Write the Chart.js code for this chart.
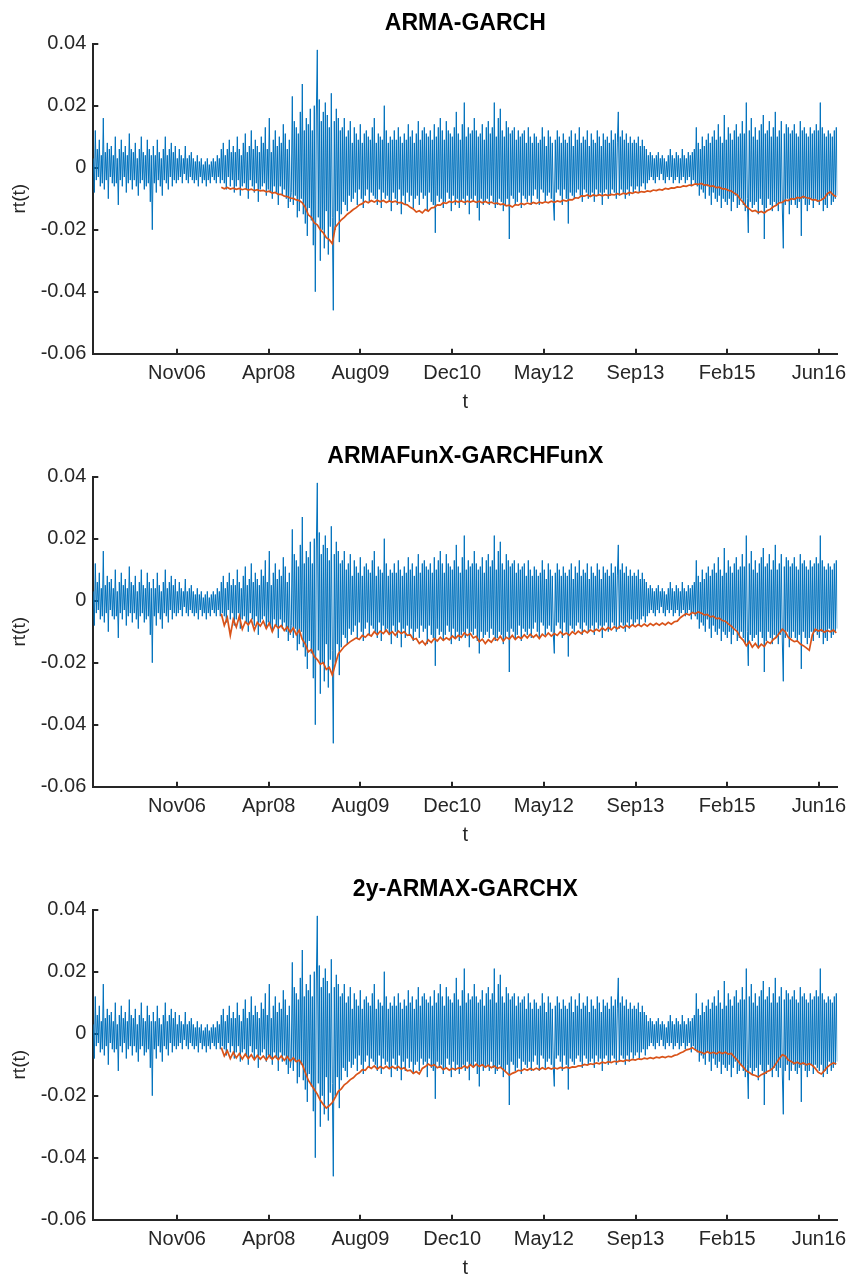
<!DOCTYPE html>
<html>
<head>
<meta charset="utf-8">
<script src="https://cdn.jsdelivr.net/npm/chart.js@4.4.0/dist/chart.umd.min.js"></script>
<style>
body { margin: 0; background: #fff; width: 851px; height: 1275px; overflow: hidden; position: relative; }
.panel { position: absolute; left: 0; width: 851px; height: 433px; }
</style>
</head>
<body>
<div class="panel" style="top:0px"><canvas id="c0" width="851" height="433"></canvas></div>
<div class="panel" style="top:433px"><canvas id="c1" width="851" height="433"></canvas></div>
<div class="panel" style="top:866px"><canvas id="c2" width="851" height="433"></canvas></div>
<script>
// t axis is the sample index; date labels sit at these samples
const tickLabelsX = ['Nov06', 'Apr08', 'Aug09', 'Dec10', 'May12', 'Sep13', 'Feb15', 'Jun16'];
const tickValuesX = [83.7, 175.4, 267.1, 358.8, 450.5, 542.2, 633.9, 725.6];
const tickValuesY = [-0.06, -0.04, -0.02, 0, 0.02, 0.04];
const tickLabelsY = ['-0.06', '-0.04', '-0.02', '0', '0.02', '0.04'];
const titles = ['ARMA-GARCH', 'ARMAFunX-GARCHFunX', '2y-ARMAX-GARCHX'];

// returns rt(t) (same series in all three panels)
const returns = [
  .003,-.008,.012,-.004,.006,-.003,.009,-.006,.004,-.005,.016,-.007,.005,-.004,.008,-.010,.006,-.003,.007,-.005,
  .004,-.006,.010,-.005,.003,-.012,.006,-.004,.009,-.006,.005,-.003,.007,-.008,.004,-.005,.011,-.004,.006,-.007,
  .005,-.004,.008,-.006,.003,-.009,.006,-.005,.010,-.004,.005,-.007,.004,-.006,.009,-.005,.006,-.011,.004,-.020,
  .007,-.005,.004,-.008,.009,-.004,.005,-.006,.003,-.009,.006,-.004,.010,-.005,.004,-.007,.006,-.003,.008,-.006,
  .005,-.004,.007,-.005,.003,-.004,.006,-.003,.004,-.005,.003,-.002,.007,-.004,.003,-.005,.004,-.003,.005,-.004,
  .003,-.005,.002,-.004,.004,-.006,.002,-.003,.003,-.005,.001,-.004,.002,-.006,.003,-.004,.001,-.005,.002,-.003,
  .003,-.004,.002,-.005,.004,-.003,.003,-.005,.006,-.004,.008,-.005,.004,-.007,.006,-.003,.009,-.006,.005,-.004,
  .007,-.008,.005,-.006,.010,-.004,.006,-.009,.004,-.006,.008,-.005,.011,-.007,.005,-.010,.007,-.004,.012,-.006,
  .006,-.008,.009,-.005,.007,-.011,.005,-.007,.010,-.006,.008,-.005,.013,-.009,.006,-.007,.016,-.008,.005,-.010,
  .009,-.006,.012,-.008,.007,-.012,.010,-.006,.008,-.009,.014,-.007,.011,-.010,.006,-.013,.009,-.011,-.008,.023,
  -.012,.015,-.009,.013,-.016,.011,-.014,.018,-.010,.027,-.015,.012,-.018,.016,-.022,.014,-.013,.019,-.017,.012,
  -.025,.020,-.040,.017,.038,-.016,.022,-.030,.015,-.020,.018,-.026,.021,-.014,.017,-.028,.013,-.019,.024,-.016,
  -.046,.015,-.020,.019,-.014,.016,-.024,.012,-.015,.013,-.011,.016,-.012,.010,-.014,.012,-.009,.015,-.011,.008,
  -.010,.013,-.008,.011,-.012,.009,-.007,.014,-.010,.008,-.013,.011,-.009,.012,-.007,.010,-.011,.009,-.008,.013,
  -.009,.016,-.010,.008,-.012,.011,-.007,.010,-.013,.009,-.008,.020,-.010,.012,-.009,.008,-.011,.010,-.014,.009,
  -.008,.012,-.010,.009,-.012,.013,-.007,.010,-.015,.008,-.009,.011,-.012,.009,-.008,.014,-.011,.010,-.009,.012,
  -.013,.008,-.010,.011,-.009,.015,-.012,.009,-.008,.012,-.010,.013,-.009,.011,-.014,.010,-.008,.012,-.011,.009,
  -.012,.014,-.021,.010,-.009,.013,-.011,.016,-.010,.012,-.013,.009,-.011,.015,-.008,.012,-.010,.011,-.014,.010,
  -.009,.013,-.012,.018,-.010,.011,-.013,.009,-.011,.014,-.010,.021,-.012,.010,-.009,.013,-.015,.011,-.010,.012,
  -.011,.016,-.009,.012,-.013,.010,-.017,.011,-.010,.014,-.012,.009,-.011,.013,-.010,.015,-.012,.011,-.009,.013,
  -.011,.021,-.013,.010,-.012,.016,-.010,.019,-.011,.012,-.014,.010,-.012,.015,-.010,.013,-.023,.011,-.009,.012,
  -.010,.013,-.012,.009,-.011,.012,-.008,.010,-.013,.011,-.009,.012,-.010,.008,-.011,.013,-.009,.010,-.012,.008,
  -.009,.011,-.007,.010,-.010,.008,-.012,.009,-.007,.013,-.008,.010,-.011,.007,-.009,.012,-.008,.010,-.010,.008,
  -.011,-.017,.009,-.008,.012,-.007,.010,-.009,.008,-.012,.011,-.007,.009,-.010,.008,-.018,.010,-.008,.012,-.009,
  .007,-.010,.011,-.008,.009,-.007,.013,-.009,.008,-.011,.010,-.007,.009,-.008,.012,-.010,.007,-.009,.011,-.008,
  .009,-.011,.008,-.007,.012,-.009,.010,-.008,.007,-.012,.011,-.008,.009,-.007,.010,-.010,.008,-.009,.012,-.007,
  .009,-.008,.011,-.010,.008,.018,-.009,.010,-.007,.012,-.008,.009,-.010,.011,-.007,.008,-.009,.010,-.006,.008,
  -.008,.009,-.007,.008,-.006,.010,-.008,.007,-.006,.009,-.005,.007,-.007,.006,-.005,.004,-.004,.005,-.003,.004,
  -.004,.003,-.005,.004,-.003,.005,-.004,.003,-.002,.004,-.004,.003,-.005,.002,-.003,.004,-.004,.006,-.003,.004,
  -.005,.003,-.004,.005,-.003,.004,-.005,.003,-.004,.006,-.003,.004,-.005,.003,-.004,.005,-.003,.004,-.006,.005,
  -.004,.006,-.005,.013,-.006,.008,-.009,.006,-.007,.010,-.008,.007,-.010,.009,-.006,.011,-.009,.008,-.012,.010,
  -.008,.012,-.010,.009,-.011,.014,-.009,.010,-.013,.008,-.010,.017,-.011,.009,-.012,.013,-.010,.011,-.014,.009,
  -.011,.012,-.009,.014,-.013,.010,-.012,.011,-.010,.015,-.012,.011,-.014,.021,-.010,-.021,.012,-.011,.016,-.013,
  .010,-.012,.013,-.011,.009,-.015,.012,-.010,.014,-.012,.017,-.023,.011,-.013,.012,-.010,.015,-.012,.010,-.014,
  .013,-.011,.018,-.012,.010,-.014,.012,-.011,.015,-.013,-.026,.011,-.012,.014,-.010,.013,-.015,.011,-.012,.012,
  -.010,.014,-.012,.011,-.013,.010,-.011,.015,-.022,.012,-.010,.013,-.012,.011,-.014,.010,-.012,.013,-.010,.011,
  -.013,.012,-.010,.014,-.011,.012,-.012,.021,-.010,.013,-.014,.011,-.012,.010,-.013,.012,-.009,.011,-.012,.010,
  -.011,.012,-.010,.013,-.009
];

// VaR series: first value at sample 128, then one every 3 samples
const varStart = 128;
const varStep = 3;

const varArmaGarch = [
  -.0063,-.0068,-.0064,-.0069,-.0066,-.0070,-.0067,-.0071,-.0068,-.0072,-.0069,-.0074,-.0071,-.0075,-.0073,-.0078,-.0076,-.0082,-.0080,-.0086,
  -.0086,-.0092,-.0093,-.0098,-.0099,-.0104,-.0106,-.0113,-.0128,-.0152,-.0160,-.0178,-.0184,-.0200,-.0210,-.0226,-.0232,-.0245,-.0192,-.0180,
  -.0168,-.0160,-.0150,-.0143,-.0135,-.0129,-.0120,-.0116,-.0108,-.0113,-.0106,-.0111,-.0105,-.0110,-.0106,-.0112,-.0107,-.0111,-.0108,-.0113,
  -.0112,-.0118,-.0120,-.0128,-.0133,-.0143,-.0139,-.0146,-.0135,-.0140,-.0130,-.0128,-.0120,-.0121,-.0113,-.0115,-.0109,-.0112,-.0107,-.0111,
  -.0107,-.0112,-.0108,-.0111,-.0107,-.0112,-.0108,-.0113,-.0109,-.0114,-.0111,-.0116,-.0114,-.0119,-.0117,-.0123,-.0121,-.0127,-.0119,-.0121,
  -.0115,-.0119,-.0114,-.0117,-.0112,-.0116,-.0111,-.0114,-.0110,-.0113,-.0108,-.0112,-.0107,-.0110,-.0105,-.0108,-.0103,-.0104,-.0097,-.0098,
  -.0091,-.0092,-.0088,-.0093,-.0088,-.0091,-.0087,-.0091,-.0087,-.0090,-.0086,-.0088,-.0084,-.0087,-.0082,-.0085,-.0080,-.0083,-.0078,-.0081,
  -.0077,-.0079,-.0075,-.0077,-.0072,-.0074,-.0070,-.0072,-.0067,-.0069,-.0065,-.0066,-.0062,-.0063,-.0059,-.0060,-.0056,-.0057,-.0052,-.0054,
  -.0051,-.0056,-.0055,-.0060,-.0059,-.0064,-.0063,-.0068,-.0068,-.0073,-.0075,-.0082,-.0088,-.0102,-.0112,-.0126,-.0133,-.0141,-.0138,-.0145,
  -.0141,-.0146,-.0138,-.0134,-.0126,-.0121,-.0113,-.0112,-.0105,-.0106,-.0100,-.0102,-.0096,-.0098,-.0093,-.0097,-.0098,-.0104,-.0103,-.0108,
  -.0104,-.0098,-.0084,-.0078,-.0088,-.0094
];

const varFunX = [
  -.0042,-.0080,-.0055,-.0112,-.0060,-.0085,-.0050,-.0092,-.0068,-.0078,-.0062,-.0095,-.0070,-.0082,-.0066,-.0090,-.0072,-.0100,-.0078,-.0088,
  -.0080,-.0096,-.0085,-.0102,-.0088,-.0110,-.0095,-.0125,-.0140,-.0165,-.0158,-.0180,-.0190,-.0205,-.0200,-.0222,-.0215,-.0240,-.0205,-.0172,
  -.0160,-.0148,-.0140,-.0132,-.0126,-.0120,-.0125,-.0112,-.0118,-.0108,-.0114,-.0100,-.0110,-.0098,-.0106,-.0095,-.0108,-.0100,-.0112,-.0098,
  -.0106,-.0100,-.0112,-.0110,-.0125,-.0122,-.0138,-.0130,-.0142,-.0126,-.0135,-.0122,-.0130,-.0118,-.0128,-.0120,-.0126,-.0114,-.0122,-.0112,
  -.0118,-.0104,-.0112,-.0106,-.0120,-.0115,-.0132,-.0124,-.0138,-.0126,-.0134,-.0120,-.0128,-.0115,-.0130,-.0118,-.0124,-.0112,-.0125,-.0116,
  -.0122,-.0110,-.0120,-.0108,-.0118,-.0110,-.0122,-.0108,-.0116,-.0104,-.0114,-.0106,-.0112,-.0100,-.0110,-.0104,-.0112,-.0100,-.0108,-.0098,
  -.0106,-.0096,-.0104,-.0094,-.0100,-.0092,-.0098,-.0088,-.0096,-.0086,-.0094,-.0084,-.0090,-.0082,-.0088,-.0080,-.0086,-.0078,-.0084,-.0077,
  -.0083,-.0075,-.0082,-.0074,-.0080,-.0073,-.0079,-.0072,-.0078,-.0070,-.0076,-.0068,-.0066,-.0055,-.0048,-.0042,-.0046,-.0038,-.0042,-.0036,
  -.0040,-.0046,-.0044,-.0052,-.0050,-.0058,-.0056,-.0064,-.0066,-.0075,-.0082,-.0092,-.0100,-.0118,-.0128,-.0145,-.0132,-.0150,-.0138,-.0152,
  -.0140,-.0148,-.0132,-.0138,-.0125,-.0118,-.0105,-.0092,-.0100,-.0118,-.0126,-.0132,-.0130,-.0140,-.0145,-.0152,-.0160,-.0110,-.0092,-.0098,
  -.0094,-.0102,-.0096,-.0100,-.0095,-.0104
];

const var2y = [
  -.0045,-.0072,-.0055,-.0080,-.0060,-.0078,-.0064,-.0082,-.0066,-.0080,-.0068,-.0084,-.0070,-.0082,-.0072,-.0085,-.0070,-.0082,-.0072,-.0084,
  -.0072,-.0086,-.0074,-.0088,-.0078,-.0090,-.0085,-.0100,-.0125,-.0150,-.0165,-.0180,-.0195,-.0215,-.0228,-.0240,-.0232,-.0222,-.0205,-.0186,
  -.0178,-.0165,-.0158,-.0148,-.0142,-.0132,-.0126,-.0116,-.0118,-.0106,-.0112,-.0104,-.0114,-.0106,-.0112,-.0105,-.0113,-.0106,-.0112,-.0106,
  -.0114,-.0110,-.0120,-.0118,-.0128,-.0122,-.0130,-.0112,-.0106,-.0098,-.0104,-.0100,-.0110,-.0106,-.0116,-.0110,-.0118,-.0112,-.0116,-.0110,
  -.0112,-.0104,-.0110,-.0100,-.0108,-.0098,-.0106,-.0100,-.0108,-.0102,-.0110,-.0104,-.0112,-.0108,-.0116,-.0125,-.0134,-.0128,-.0124,-.0118,
  -.0120,-.0114,-.0118,-.0112,-.0117,-.0111,-.0116,-.0110,-.0115,-.0110,-.0114,-.0110,-.0113,-.0109,-.0112,-.0108,-.0111,-.0107,-.0108,-.0104,
  -.0104,-.0099,-.0101,-.0097,-.0099,-.0094,-.0097,-.0092,-.0095,-.0090,-.0093,-.0089,-.0091,-.0087,-.0089,-.0085,-.0087,-.0083,-.0085,-.0081,
  -.0083,-.0079,-.0081,-.0077,-.0080,-.0076,-.0078,-.0074,-.0077,-.0073,-.0075,-.0070,-.0068,-.0062,-.0058,-.0052,-.0050,-.0045,-.0052,-.0058,
  -.0060,-.0065,-.0058,-.0063,-.0060,-.0065,-.0059,-.0064,-.0060,-.0066,-.0064,-.0075,-.0085,-.0098,-.0108,-.0120,-.0125,-.0132,-.0135,-.0140,
  -.0132,-.0128,-.0122,-.0118,-.0110,-.0095,-.0080,-.0068,-.0072,-.0085,-.0090,-.0096,-.0092,-.0098,-.0094,-.0100,-.0097,-.0102,-.0112,-.0125,
  -.0130,-.0120,-.0108,-.0100,-.0094,-.0098
];

const FONT = '"Liberation Sans", Arial, Helvetica, sans-serif';
const AXIS = '#262626';

function drawPanel(id, title, varSeries) {
  const ctx = document.getElementById(id).getContext('2d');

  const rtData = returns.map((v, i) => ({ x: i, y: v }));
  const varData = varSeries.map((v, j) => ({ x: varStart + j * varStep, y: v }));

  new Chart(ctx, {
    type: 'line',
    data: {
      datasets: [
        { data: varData, borderColor: '#D95319', borderWidth: 1.7, pointRadius: 0, order: 0 },
        { data: rtData, borderColor: '#0072BD', borderWidth: 1, pointRadius: 0, order: 1 }
      ]
    },
    options: {
      responsive: false,
      animation: false,
      events: [],
      layout: { padding: { left: 0, right: 13.7, top: 0, bottom: 0 } },
      plugins: {
        legend: { display: false },
        tooltip: { enabled: false },
        title: {
          display: true, text: title, fullSize: false, color: '#000',
          font: { family: FONT, size: 23, weight: 'bold' },
          padding: { top: 10.2, bottom: 5.9 }
        }
      },
      scales: {
        x: {
          type: 'linear', min: 0, max: 744,
          border: { display: true, color: AXIS, width: 2 },
          grid: { drawOnChartArea: false, drawTicks: true, tickLength: -5, color: AXIS, lineWidth: 2 },
          ticks: {
            autoSkip: false, maxRotation: 0, padding: 13, color: AXIS,
            font: { family: FONT, size: 20 },
            callback: (v, i) => tickLabelsX[i]
          },
          afterBuildTicks: s => { s.ticks = tickValuesX.map(v => ({ value: v })); },
          afterFit: s => { s.height = 79.3; s.paddingLeft = 0; s.paddingRight = 0; },
          title: { display: true, text: 't', color: AXIS, font: { family: FONT, size: 20 }, padding: { top: 0, bottom: 19 } }
        },
        y: {
          min: -0.06, max: 0.04,
          border: { display: true, color: AXIS, width: 2 },
          grid: { drawOnChartArea: false, drawTicks: true, tickLength: -5, color: AXIS, lineWidth: 2 },
          ticks: {
            padding: 12, color: AXIS,
            font: { family: FONT, size: 20 },
            callback: (v, i) => tickLabelsY[i]
          },
          afterBuildTicks: s => { s.ticks = tickValuesY.map(v => ({ value: v })); },
          afterFit: s => { s.width = 93.3; s.paddingTop = 0; s.paddingBottom = 0; },
          title: { display: true, text: 'rt(t)', color: AXIS, font: { family: FONT, size: 19 }, padding: { top: 8.6, bottom: 0 } }
        }
      }
    }
  });
}

drawPanel('c0', titles[0], varArmaGarch);
drawPanel('c1', titles[1], varFunX);
drawPanel('c2', titles[2], var2y);
</script>
</body>
</html>
